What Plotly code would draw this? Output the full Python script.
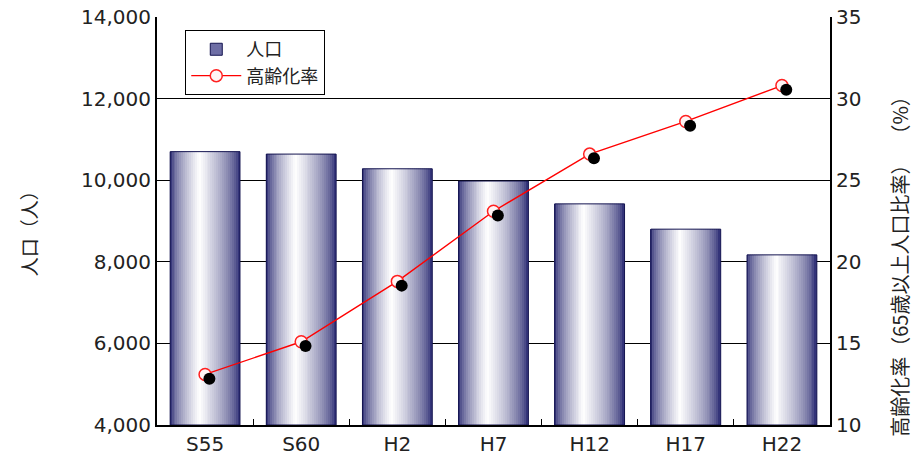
import plotly.graph_objects as go

categories = ["S55", "S60", "H2", "H7", "H12", "H17", "H22"]
population = [10700, 10640, 10280, 9980, 9420, 8800, 8170]
aging_rate = [13.1, 15.1, 18.8, 23.1, 26.6, 28.6, 30.8]
left_ticks = [4000, 6000, 8000, 10000, 12000, 14000]
right_ticks = [10, 15, 20, 25, 30, 35]

JP = "Noto Sans CJK JP"
NUM = "DejaVu Sans"
NAVY = (28, 28, 105)
BAR_W = 0.726
N = 36

fig = go.Figure()

def grad_color(t):
    peak = 0.42
    if t <= peak:
        f = t / peak
    else:
        f = (1 - t) / (1 - peak)
    f = max(0.0, min(1.0, f))
    f = f ** 0.6
    r = NAVY[0] + (255 - NAVY[0]) * f
    g = NAVY[1] + (255 - NAVY[1]) * f
    b = NAVY[2] + (255 - NAVY[2]) * f
    return f"rgb({r:.0f},{g:.0f},{b:.0f})"

# legend-only entry for population
fig.add_trace(go.Bar(
    x=[categories[0]], y=[None], name="人口\u00a0\u00a0\u00a0\u00a0\u00a0\u00a0\u00a0\u00a0\u00a0",
    marker=dict(color="rgb(110,110,165)", line=dict(color="rgb(20,20,80)", width=1)),
    showlegend=True,
))

sw = BAR_W / N
for i in range(N):
    t = (i + 0.5) / N
    fig.add_trace(go.Bar(
        x=categories, y=[p - 4000 for p in population], base=4000,
        width=sw * 1.02, offset=-BAR_W / 2 + i * sw,
        marker=dict(color=grad_color(t), line=dict(width=0)),
        showlegend=False, hoverinfo="skip",
    ))

# outline
fig.add_trace(go.Bar(
    x=categories, y=[p - 4000 for p in population], base=4000,
    width=BAR_W, offset=-BAR_W / 2,
    marker=dict(color="rgba(0,0,0,0)", line=dict(color="rgb(20,20,80)", width=1)),
    showlegend=False, hoverinfo="skip",
))

# marker shadows (small pixel offset down-right)
fig.add_trace(go.Scatter(
    x=[i + 0.045 for i in range(len(categories))],
    y=[v - 0.26 for v in aging_rate],
    xaxis="x2", yaxis="y2", mode="markers",
    marker=dict(size=12, color="black", line=dict(width=0)),
    showlegend=False, hoverinfo="skip",
))

fig.add_trace(go.Scatter(
    x=categories, y=aging_rate, yaxis="y2", name="高齢化率",
    mode="lines+markers",
    line=dict(color="#ff0000", width=1.4),
    marker=dict(size=12, color="#fff4f4", line=dict(color="#ff2020", width=1.5)),
))

fig.update_layout(
    width=916, height=463,
    margin=dict(l=157, r=86, t=17, b=38, autoexpand=False),
    plot_bgcolor="white", paper_bgcolor="white",
    barmode="overlay",
    font=dict(family=NUM, size=20, color="#222"),
    xaxis=dict(
        type="category", categoryorder="array", categoryarray=categories,
        range=[-0.5, 6.5], automargin=False,
        showline=True, linecolor="black", linewidth=2,
        ticks="inside", tickson="boundaries", ticklen=6, tickcolor="black", tickwidth=1,
        showgrid=False, tickfont=dict(size=20, family=NUM),
    ),
    xaxis2=dict(overlaying="x", range=[-0.5, 6.5], visible=False, anchor="y"),
    yaxis=dict(
        range=[4000, 14000], tickvals=left_ticks, tickformat=",", automargin=False,
        showline=True, linecolor="black", linewidth=2,
        ticks="inside", ticklen=5, tickcolor="black",
        showgrid=True, gridcolor="black", gridwidth=1,
        tickfont=dict(size=20, family=NUM), zeroline=False,
    ),
    yaxis2=dict(
        overlaying="y", side="right", anchor="x", automargin=False,
        range=[10, 35], tickvals=right_ticks,
        showline=True, linecolor="black", linewidth=2,
        ticks="inside", ticklen=5, tickcolor="black",
        showgrid=False, zeroline=False, tickfont=dict(size=20, family=NUM),
    ),
    legend=dict(
        x=0.042, y=0.968, xanchor="left", yanchor="top",
        bordercolor="black", borderwidth=1, bgcolor="white",
        font=dict(size=18, family=JP), traceorder="normal",
        itemwidth=50, tracegroupgap=2,
    ),
    annotations=[
        dict(
            text="人口（人）",
            xref="paper", yref="paper", x=0, xshift=-129, y=0.48,
            xanchor="center", yanchor="middle", textangle=-90, showarrow=False,
            font=dict(size=19, family=JP, color="#222"),
        ),
        dict(
            text="高齢化率（65歳以上人口比率）\u2002（%）",
            xref="paper", yref="paper", x=1.0, xshift=70, y=0.835,
            xanchor="center", yanchor="top", textangle=-90, showarrow=False,
            font=dict(size=20, family=JP, color="#222"),
        ),
    ],
    showlegend=True,
)

fig.write_html("out.html")
